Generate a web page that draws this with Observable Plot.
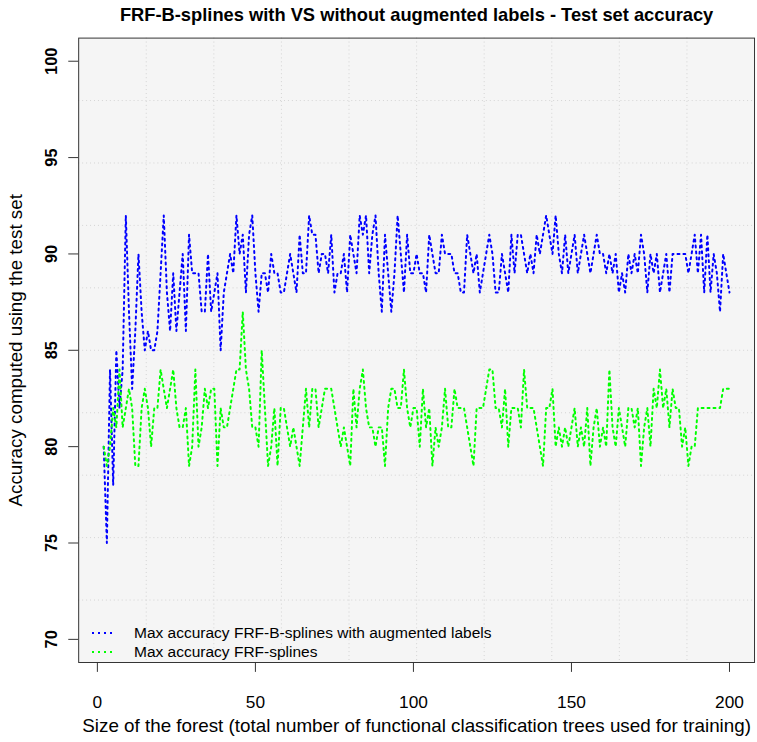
<!DOCTYPE html>
<html>
<head>
<meta charset="utf-8">
<script src="https://cdn.jsdelivr.net/npm/d3@7"></script>
<script src="https://cdn.jsdelivr.net/npm/@observablehq/plot@0.6"></script>
<style>
  html, body { margin: 0; padding: 0; overflow: hidden; background: #fff; }
  #wrap { position: relative; width: 757px; height: 742px; overflow: hidden; }
  #legend { position: absolute; left: 92px; top: 623px; font: 15.5px "Liberation Sans", Arial, sans-serif; color: #000; }
  #legend .row { display: flex; align-items: center; height: 19px; white-space: nowrap; }
  #legend svg { margin-right: 18px; }
</style>
</head>
<body>
<div id="wrap">
  <div id="chart"></div>
  <div id="legend"></div>
</div>
<script>
// Forest sizes (number of trees) and the best test accuracy reached for each size
const forestSize = d3.range(2, 201);

const accAugmented = [
  80, 75, 84, 78, 85, 82, 84, 92, 87, 83,
  86, 90, 87, 85, 86, 85, 85, 86, 89, 92,
  88, 86, 89, 86, 88, 90, 86, 91, 89, 89,
  89, 87, 87, 90, 87, 88, 89, 85, 88, 89,
  90, 89, 92, 90, 91, 88, 91, 92, 89, 87,
  89, 89, 88, 90, 89, 89, 88, 88, 89, 90,
  89, 88, 91, 89, 89, 92, 91, 91, 89, 90,
  90, 89, 91, 88, 89, 89, 90, 88, 91, 90,
  89, 92, 91, 92, 89, 91, 92, 89, 87, 91,
  89, 87, 89, 92, 90, 88, 91, 89, 89, 90,
  89, 89, 88, 91, 90, 89, 89, 91, 90, 90,
  90, 89, 89, 88, 88, 91, 90, 89, 90, 88,
  89, 90, 91, 90, 88, 88, 90, 89, 88, 91,
  89, 91, 91, 90, 89, 90, 89, 91, 90, 91,
  92, 91, 90, 92, 90, 89, 91, 89, 90, 91,
  89, 90, 91, 90, 89, 90, 91, 90, 90, 89,
  90, 89, 90, 88, 89, 88, 90, 89, 90, 89,
  91, 90, 88, 90, 89, 90, 88, 89, 90, 88,
  90, 90, 90, 90, 90, 89, 90, 91, 89, 91,
  88, 91, 88, 90, 89, 87, 90, 89, 88
];

const accSplines = [
  80, 79, 80, 82, 81, 84, 81, 82, 83, 82,
  79, 79, 82, 83, 82, 80, 82, 82, 84, 83,
  82, 83, 84, 82, 81, 81, 82, 79, 80, 84,
  80, 81, 83, 82, 83, 83, 79, 82, 81, 81,
  82, 83, 84, 84, 87, 84, 83, 81, 81, 80,
  85, 82, 79, 80, 82, 79, 82, 82, 81, 80,
  81, 80, 79, 81, 83, 81, 83, 83, 81, 82,
  83, 83, 83, 82, 81, 80, 81, 80, 79, 83,
  81, 83, 84, 82, 81, 81, 80, 81, 81, 79,
  82, 83, 83, 82, 82, 84, 82, 81, 82, 82,
  80, 83, 81, 82, 79, 81, 80, 81, 83, 81,
  81, 83, 82, 82, 82, 81, 80, 79, 82, 82,
  82, 83, 84, 84, 82, 82, 81, 83, 80, 82,
  82, 82, 81, 84, 82, 82, 82, 81, 80, 79,
  82, 82, 83, 80, 81, 80, 81, 80, 81, 82,
  80, 81, 80, 82, 79, 81, 82, 80, 81, 80,
  84, 81, 80, 82, 81, 80, 82, 82, 81, 82,
  79, 81, 82, 80, 83, 82, 84, 82, 83, 81,
  83, 82, 82, 80, 81, 79, 80, 80, 82, 82,
  82, 82, 82, 82, 82, 82, 83, 83, 83
];

const seriesNames = [
  "Max accuracy FRF-B-splines with augmented labels",
  "Max accuracy FRF-splines"
];
const seriesColors = ["#0000ff", "#00ff00"];

const xTicks = [0, 50, 100, 150, 200];
const yTicks = [70, 75, 80, 85, 90, 95, 100];
const yLimits = [70, 100];

const chartTitle = "FRF-B-splines with VS without augmented labels - Test set accuracy";
const xTitle = "Size of the forest (total number of functional classification trees used for training)";
const yTitle = "Accuracy computed using the test set";

// Axis ranges padded by 4% on each side, and a 10 x 10 background grid
const pad = ([a, b]) => [a - 0.04 * (b - a), b + 0.04 * (b - a)];
const xRange = pad(d3.extent(forestSize));
const yRange = pad(yLimits);
const divisions = ([a, b]) => d3.range(1, 10).map(i => a + i * (b - a) / 10);
const gridX = divisions(xRange);
const gridY = divisions(yRange);

const font = "'Liberation Sans', Arial, Helvetica, sans-serif";
const dotted = "2,4";

const chart = Plot.plot({
  width: 765,
  height: 742,
  marginLeft: 79,
  marginRight: 3,
  marginTop: 38,
  marginBottom: 73,
  x: {domain: xRange},
  y: {domain: yRange},
  style: {fontFamily: font, color: "#000", background: "transparent", overflow: "visible"},
  marks: [
    Plot.frame({fill: "#f5f5f5", stroke: null}),
    Plot.ruleX(gridX, {stroke: "#d3d3d3", strokeDasharray: "1,3"}),
    Plot.ruleY(gridY, {stroke: "#d3d3d3", strokeDasharray: "1,3"}),
    Plot.line(forestSize, {
      x: d => d, y: (d, i) => accAugmented[i],
      stroke: seriesColors[0], strokeWidth: 2, strokeDasharray: dotted
    }),
    Plot.line(forestSize, {
      x: d => d, y: (d, i) => accSplines[i],
      stroke: seriesColors[1], strokeWidth: 2, strokeDasharray: dotted
    }),
    Plot.frame({stroke: "#333"}),
    Plot.axisX({ticks: xTicks, tickSize: 10, tickPadding: 24, fontSize: 17.5, label: null, stroke: "#333"}),
    Plot.axisY({ticks: yTicks, tickSize: 10, tickFormat: () => "", label: null, stroke: "#333"}),
    Plot.text(yTicks, {
      y: d => d, text: d => String(d), frameAnchor: "left", dx: -27,
      textAnchor: "middle", lineAnchor: "middle",
      rotate: -90, fontSize: 16.5, fontWeight: "bold"
    }),
    Plot.text([yTitle], {
      text: d => d, frameAnchor: "left", dx: -63, rotate: -90,
      textAnchor: "middle", lineAnchor: "middle", fontSize: 19
    }),
    Plot.text([xTitle], {
      text: d => d, frameAnchor: "bottom", dy: 64,
      textAnchor: "middle", lineAnchor: "middle", fontSize: 19
    }),
    Plot.text([chartTitle], {
      text: d => d, frameAnchor: "top", dy: -23,
      textAnchor: "middle", lineAnchor: "middle", fontSize: 18.5, fontWeight: "bold"
    })
  ]
});
document.getElementById("chart").appendChild(chart);

// Legend: dotted line sample followed by the series name
const legend = d3.select("#legend");
seriesNames.forEach((name, i) => {
  const row = legend.append("div").attr("class", "row");
  const svg = row.append("svg").attr("width", 24).attr("height", 4);
  svg.append("line")
    .attr("x1", 0).attr("x2", 24).attr("y1", 2).attr("y2", 2)
    .attr("stroke", seriesColors[i]).attr("stroke-width", 2)
    .attr("stroke-dasharray", dotted);
  row.append("span").text(name);
});
</script>
</body>
</html>
